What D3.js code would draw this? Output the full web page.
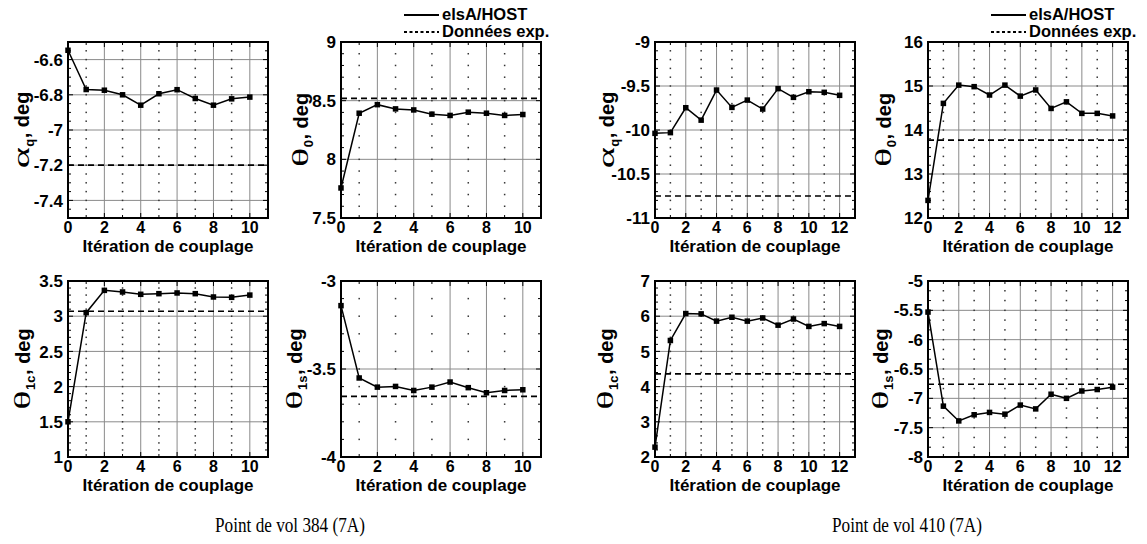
<!DOCTYPE html>
<html>
<head>
<meta charset="utf-8">
<script src="https://cdn.jsdelivr.net/npm/d3@7"></script>
<style>
  html, body { margin: 0; padding: 0; background: #fff; }
  svg { display: block; }
</style>
</head>
<body>
<svg id="chart" width="1147" height="544"></svg>
<script>
// ---------------- DATA ----------------
const iter384 = [0, 1, 2, 3, 4, 5, 6, 7, 8, 9, 10];
const iter410 = [0, 1, 2, 3, 4, 5, 6, 7, 8, 9, 10, 11, 12];

const alphaQ384  = [-6.547, -6.770, -6.774, -6.800, -6.859, -6.794, -6.771, -6.821, -6.859, -6.823, -6.813];
const theta0_384 = [7.756, 8.393, 8.466, 8.430, 8.421, 8.385, 8.374, 8.402, 8.393, 8.374, 8.382];
const theta1c384 = [1.50, 3.05, 3.367, 3.344, 3.311, 3.320, 3.330, 3.320, 3.273, 3.268, 3.300];
const theta1s384 = [-3.140, -3.551, -3.603, -3.599, -3.622, -3.603, -3.574, -3.606, -3.635, -3.622, -3.618];

const alphaQ410  = [-10.038, -10.030, -9.747, -9.888, -9.546, -9.743, -9.660, -9.762, -9.530, -9.629, -9.565, -9.572, -9.606];
const theta0_410 = [12.40, 14.605, 15.02, 14.985, 14.795, 15.02, 14.77, 14.91, 14.49, 14.64, 14.378, 14.378, 14.32];
const theta1c410 = [2.28, 5.31, 6.075, 6.066, 5.86, 5.97, 5.86, 5.95, 5.745, 5.92, 5.71, 5.79, 5.71];
const theta1s410 = [-5.53, -7.133, -7.385, -7.28, -7.24, -7.27, -7.115, -7.18, -6.93, -7.00, -6.875, -6.85, -6.81];

// experimental reference values (Données exp.)
const exp384 = [-7.2, 8.52, 3.07, -3.656];
const exp410 = [-10.75, 13.77, 4.36, -6.76];

// tick labels
const xTicks384 = [0, 2, 4, 6, 8, 10];
const xTicks410 = [0, 2, 4, 6, 8, 10, 12];
const yTicksA384 = [-7.4, -7.2, -7, -6.8, -6.6];
const yTicksT0_384 = [7.5, 8, 8.5, 9];
const yTicksT1c384 = [1, 1.5, 2, 2.5, 3, 3.5];
const yTicksT1s384 = [-4, -3.5, -3];
const yTicksA410 = [-11, -10.5, -10, -9.5, -9];
const yTicksT0_410 = [12, 13, 14, 15, 16];
const yTicksT1c410 = [2, 3, 4, 5, 6, 7];
const yTicksT1s410 = [-8, -7.5, -7, -6.5, -6, -5.5, -5];

const legendLabels = ["elsA/HOST", "Données exp."];
const xTitle = "Itération de couplage";
const captions = ["Point de vol 384 (7A)", "Point de vol 410 (7A)"];

// ---------------- LAYOUT ----------------
const colLeft = [68, 341, 655, 928];
const rowTop = [42, 281];
const PW = 200, PH = 176;

const panels = [
  {c:0, r:0, x:iter384, y:alphaQ384,  exp:exp384[0], dom:[-7.5,-6.5], yt:yTicksA384,   minor:0.05, xMax:11, xt:xTicks384, g:"α", s:"q",  tx:22},
  {c:1, r:0, x:iter384, y:theta0_384, exp:exp384[1], dom:[7.5,9],     yt:yTicksT0_384, minor:0.1,  xMax:11, xt:xTicks384, g:"θ", s:"0",  tx:301, legend:true},
  {c:0, r:1, x:iter384, y:theta1c384, exp:exp384[2], dom:[1,3.5],     yt:yTicksT1c384, minor:0.1,  xMax:11, xt:xTicks384, g:"θ", s:"1c", tx:23},
  {c:1, r:1, x:iter384, y:theta1s384, exp:exp384[3], dom:[-4,-3],     yt:yTicksT1s384, minor:0.1,  xMax:11, xt:xTicks384, g:"θ", s:"1s", tx:295},
  {c:2, r:0, x:iter410, y:alphaQ410,  exp:exp410[0], dom:[-11,-9],    yt:yTicksA410,   minor:0.1,  xMax:13, xt:xTicks410, g:"α", s:"q",  tx:607},
  {c:3, r:0, x:iter410, y:theta0_410, exp:exp410[1], dom:[12,16],     yt:yTicksT0_410, minor:0.2,  xMax:13, xt:xTicks410, g:"θ", s:"0",  tx:884, legend:true},
  {c:2, r:1, x:iter410, y:theta1c410, exp:exp410[2], dom:[2,7],       yt:yTicksT1c410, minor:0.2,  xMax:13, xt:xTicks410, g:"θ", s:"1c", tx:606},
  {c:3, r:1, x:iter410, y:theta1s410, exp:exp410[3], dom:[-8,-5],     yt:yTicksT1s410, minor:1/6,  xMax:13, xt:xTicks410, g:"θ", s:"1s", tx:881}
];

const SANS = "'Liberation Sans', Arial, Helvetica, sans-serif";
const SERIF = "'Liberation Serif', 'Times New Roman', serif";
const fmt = v => String(Math.round(v * 100) / 100);

const svg = d3.select("#chart");

panels.forEach(p => {
  const x0 = colLeft[p.c], y0 = rowTop[p.r];
  const xs = d3.scaleLinear().domain([0, p.xMax]).range([x0, x0 + PW]);
  const ys = d3.scaleLinear().domain(p.dom).range([y0 + PH, y0]);
  const g = svg.append("g");

  const eps = 1e-6;
  const minorY = d3.range(p.dom[0], p.dom[1] + eps, p.minor);
  const intX = d3.range(0, p.xMax + 1);
  const isMajorY = v => p.yt.some(t => Math.abs(t - v) < 1e-4);

  // major horizontal grid
  g.selectAll(null).data(p.yt.filter(t => t > p.dom[0] + eps && t < p.dom[1] - eps)).join("line")
    .attr("x1", x0).attr("x2", x0 + PW)
    .attr("y1", d => ys(d)).attr("y2", d => ys(d))
    .attr("stroke", "#8a8a8a").attr("stroke-width", 1);
  // major vertical grid
  g.selectAll(null).data(p.xt.filter(t => t > 0 && t < p.xMax)).join("line")
    .attr("x1", d => xs(d)).attr("x2", d => xs(d))
    .attr("y1", y0).attr("y2", y0 + PH)
    .attr("stroke", "#8a8a8a").attr("stroke-width", 1);
  // dotted minor grid (dots at intersections)
  const dots = [];
  intX.forEach(ix => {
    if (ix === 0 || ix === p.xMax || p.xt.includes(ix)) return;
    minorY.forEach(my => {
      if (my <= p.dom[0] + eps || my >= p.dom[1] - eps) return;
      dots.push([ix, my]);
    });
  });
  g.selectAll(null).data(dots).join("rect")
    .attr("x", d => xs(d[0]) - 0.75).attr("y", d => ys(d[1]) - 0.75)
    .attr("width", 1.5).attr("height", 1.5).attr("fill", "#333");

  // border ticks (inside)
  const tk = [];
  minorY.forEach(my => {
    const L = isMajorY(my) ? 5 : 3;
    tk.push([x0, ys(my), x0 + L, ys(my)]);
    tk.push([x0 + PW, ys(my), x0 + PW - L, ys(my)]);
  });
  intX.forEach(ix => {
    const L = p.xt.includes(ix) ? 5 : 3;
    tk.push([xs(ix), y0, xs(ix), y0 + L]);
    tk.push([xs(ix), y0 + PH, xs(ix), y0 + PH - L]);
  });
  g.selectAll(null).data(tk).join("line")
    .attr("x1", d => d[0]).attr("y1", d => d[1]).attr("x2", d => d[2]).attr("y2", d => d[3])
    .attr("stroke", "#000").attr("stroke-width", 1);

  // experimental dashed line
  g.append("line")
    .attr("x1", x0).attr("x2", x0 + PW)
    .attr("y1", ys(p.exp)).attr("y2", ys(p.exp))
    .attr("stroke", "#000").attr("stroke-width", 1.7).attr("stroke-dasharray", "6,4");

  // data line
  const pts = p.x.map((xv, i) => [xv, p.y[i]]);
  g.append("path").datum(pts)
    .attr("d", d3.line().x(d => xs(d[0])).y(d => ys(d[1])))
    .attr("fill", "none").attr("stroke", "#000").attr("stroke-width", 1.5);
  const M = 5.5;
  g.selectAll(null).data(pts).join("rect")
    .attr("x", d => xs(d[0]) - M / 2).attr("y", d => ys(d[1]) - M / 2)
    .attr("width", M).attr("height", M).attr("fill", "#000");

  // frame
  g.append("rect").attr("x", x0).attr("y", y0).attr("width", PW).attr("height", PH)
    .attr("fill", "none").attr("stroke", "#000").attr("stroke-width", 2);

  // y tick labels
  g.selectAll(null).data(p.yt).join("text")
    .attr("x", x0 - 5).attr("y", d => ys(d))
    .attr("dy", "0.36em")
    .attr("text-anchor", "end")
    .attr("font-family", SANS).attr("font-weight", "bold").attr("font-size", 17)
    .text(fmt);
  // x tick labels
  g.selectAll(null).data(p.xt).join("text")
    .attr("x", d => xs(d)).attr("y", y0 + PH + 15)
    .attr("text-anchor", "middle")
    .attr("font-family", SANS).attr("font-weight", "bold").attr("font-size", 16)
    .text(fmt);
  // x title
  g.append("text")
    .attr("x", x0 + PW / 2).attr("y", y0 + PH + 34)
    .attr("text-anchor", "middle")
    .attr("font-family", SANS).attr("font-weight", "bold").attr("font-size", 17)
    .text(xTitle);

  // y title (rotated): greek letter + subscript + ", deg"
  const cy = y0 + PH / 2;
  const tg = g.append("g").attr("transform", `translate(${p.tx + 7},${cy}) rotate(-90)`);
  const inner = tg.append("g");
  const gk = inner.append("text")
    .attr("font-family", SERIF).attr("font-size", 23)
    .text(p.g);
  const SC = 1.75;
  const gw = gk.node().getComputedTextLength() * SC;
  gk.attr("transform", `scale(${SC},1)`);
  const sb = inner.append("text")
    .attr("x", gw + 0.5).attr("y", 5)
    .attr("font-family", SANS).attr("font-weight", "bold").attr("font-size", 13)
    .text(p.s);
  const sw = sb.node().getComputedTextLength();
  const rest = inner.append("text")
    .attr("x", gw + sw + 1)
    .attr("font-family", SANS).attr("font-weight", "bold").attr("font-size", 20)
    .text(", deg");
  const total = gw + sw + 1 + rest.node().getComputedTextLength();
  inner.attr("transform", `translate(${-total / 2},0)`);

  // legend
  if (p.legend) {
    const rx = x0 + PW;
    const lg = g.append("g");
    lg.append("line").attr("x1", rx - 137).attr("x2", rx - 102).attr("y1", 15).attr("y2", 15)
      .attr("stroke", "#000").attr("stroke-width", 2);
    lg.append("line").attr("x1", rx - 137).attr("x2", rx - 102).attr("y1", 32).attr("y2", 32)
      .attr("stroke", "#000").attr("stroke-width", 2).attr("stroke-dasharray", "3,2.5");
    lg.selectAll(null).data(legendLabels).join("text")
      .attr("x", rx - 99).attr("y", (d, i) => i === 0 ? 20 : 37)
      .attr("font-family", SANS).attr("font-weight", "bold").attr("font-size", 16.5)
      .text(d => d);
  }
});

// captions
const capX = [290, 907];
captions.forEach((c, i) => {
  svg.append("g").attr("transform", `translate(${capX[i]},532) scale(0.86,1)`)
    .append("text")
    .attr("text-anchor", "middle")
    .attr("font-family", SERIF).attr("font-size", 20)
    .text(c);
});
</script>
</body>
</html>
